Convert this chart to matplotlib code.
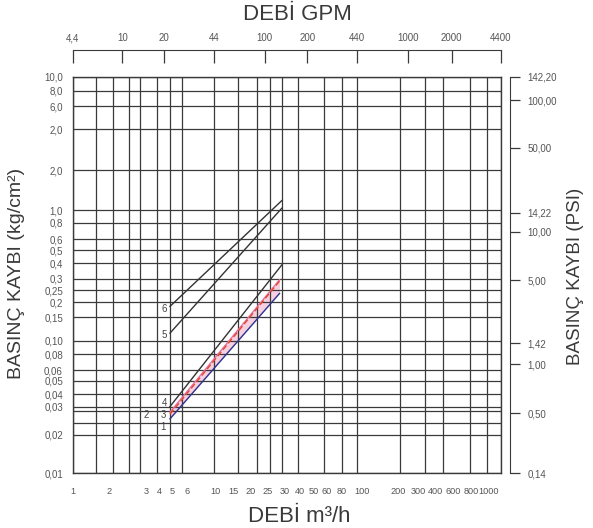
import numpy as np
import matplotlib.pyplot as plt

plt.rcParams['font.family'] = ['Liberation Sans', 'DejaVu Sans']

# flow axis (m3/h) - the printed grid is not a true log grid
x_grid = [1, 1.5, 2, 2.5, 3, 4, 5, 6, 10, 15, 20, 25, 30, 40, 50, 60, 80, 100,
          200, 300, 400, 600, 800, 1000]
x_grid_px = [72.7, 96, 113.3, 129, 140, 156.7, 170, 181.7, 214, 238.3, 257.3, 270,
             281.7, 298.3, 314, 324.3, 341.7, 356.7, 400, 425, 443.3, 470, 486.7, 500.7]
x_labels = ['1', '2', '3', '4', '5', '6', '10', '15', '20', '25', '30', '40', '50',
            '60', '80', '100', '200', '300', '400', '600', '800', '1000']
x_labels_px = [73.3, 109.3, 146, 159.3, 172.7, 186.7, 215, 233, 251, 268, 285, 300,
               314, 327, 342, 362, 398.3, 418.3, 435, 453.3, 471.7, 489]

# GPM axis on top
gpm_ticks = [4.4, 10, 20, 44, 100, 200, 440, 1000, 2000, 4400]
gpm_labels = ['4,4', '10', '20', '44', '100', '200', '440', '1000', '2000', '4400']
gpm_per_m3h = 4.4

# pressure loss (kg/cm2)
y_grid = [0.01, 0.02, 0.025, 0.028, 0.03, 0.04, 0.05, 0.06, 0.08, 0.1, 0.15, 0.2,
          0.25, 0.3, 0.4, 0.5, 0.6, 0.8, 1, 2, 4, 6, 8, 10]
y_grid_px = [473.3, 435, 423, 411, 406.5, 394, 380.7, 370, 354, 340.7, 317.3, 302.3,
             290, 278.5, 263.3, 250, 239.3, 222.7, 210.3, 170, 129.3, 106, 90.7, 76.7]
y_labels = ['0,01', '0,02', '', '', '0,03', '0,04', '0,05', '0,06', '0,08', '0,10',
            '0,15', '0,2', '0,25', '0,3', '0,4', '0,5', '0,6', '0,8', '1,0', '2,0',
            '2,0', '6,0', '8,0', '10,0']

# pressure loss (PSI) on right
psi_ticks = [0.14, 0.5, 1, 1.42, 5, 10, 14.22, 50, 100, 142.2]
psi_px = [473.3, 413.3, 364, 343.3, 280, 231.7, 212.7, 147.7, 100, 76.7]
psi_labels = ['0,14', '0,50', '1,00', '1,42', '5,00', '10,00', '14,22', '50,00',
              '100,00', '142,20']

# curves (m3/h -> kg/cm2)
curve_names = ['1', '2', '3', '4', '5', '6']
curve_x = [[5, 29], [5, 29], [5, 29], [5, 30], [5, 30], [5, 30]]
curve_y = [[0.026, 0.235], [0.0277, 0.294], [0.0272, 0.288],
           [0.03, 0.387], [0.114, 1.035], [0.185, 1.18]]
curve_color = ['#2a3590', '#e070a0', '#e8452c', '#333333', '#333333', '#333333']
curve_style = ['-', '-', (0, (4, 2)), '-', '-', '-']
label_off = [(-7, -8), (-24, -3), (-7, -1), (-5, 3), (-6, -2), (-6, -3)]

W, H = 593, 528
left, right, top, bottom = 72.7, 500.7, 76.7, 473.3


def make_scale(vals, px, p0, p1):
    lv = np.log10(np.asarray(vals, float))
    fr = (np.asarray(px, float) - p0) / (p1 - p0)

    def fwd(v):
        return np.interp(np.log10(np.clip(np.asarray(v, float), 1e-9, None)), lv, fr)

    def inv(f):
        return 10 ** np.interp(np.asarray(f, float), fr, lv)
    return fwd, inv


xf, xi = make_scale(x_grid, x_grid_px, left, right)
yf, yi = make_scale(y_grid, y_grid_px, bottom, top)
pf, pi = make_scale(psi_ticks, psi_px, bottom, top)

fig = plt.figure(figsize=(W / 100, H / 100), dpi=100)
ax = fig.add_axes([left / W, 1 - bottom / H, (right - left) / W, (bottom - top) / H])
ax.set_xscale('function', functions=(xf, xi))
ax.set_yscale('function', functions=(yf, yi))
ax.set_xlim(1, 1000)
ax.set_ylim(0.01, 10)

gc = '#3a3a3a'
lab_c = '#555555'
ax.set_xticks(x_grid, minor=True)
ax.set_xticks(xi((np.array(x_labels_px) - left) / (right - left)), x_labels)
ax.set_yticks(y_grid, y_labels)
ax.set_yticks([], minor=True)
ax.tick_params(which='both', length=0, labelsize=7, labelcolor=lab_c)
ax.tick_params(axis='x', pad=10, labelsize=6.6)
ax.tick_params(axis='y', pad=7)
ax.grid(True, which='minor', axis='x', color=gc, lw=0.9)
ax.grid(True, which='major', axis='y', color=gc, lw=0.9)
for s in ax.spines.values():
    s.set_color(gc)
    s.set_linewidth(1.0)

# shaded band between curves 1 and 2
ax.fill_between(curve_x[0], curve_y[0], curve_y[1], color='#f6cfe0', lw=0, zorder=1)

for i in range(len(curve_names)):
    ax.plot(curve_x[i], curve_y[i], color=curve_color[i], ls=curve_style[i], lw=1.0,
            zorder=3)
    ax.annotate(curve_names[i], (curve_x[i][0], curve_y[i][0]), xytext=label_off[i],
                textcoords='offset pixels', fontsize=7, color='#444444',
                ha='center', va='center')

# GPM axis
ax_top = ax.twiny()
ax_top.set_xscale('function', functions=(lambda g: xf(np.asarray(g, float) / gpm_per_m3h),
                                         lambda f: xi(f) * gpm_per_m3h))
ax_top.set_xlim(gpm_ticks[0], gpm_ticks[-1])
ax_top.set_xticks(gpm_ticks, gpm_labels)
ax_top.set_xticks([], minor=True)
ax_top.spines['top'].set_position(('outward', 19.2))
for k in ['left', 'right', 'bottom']:
    ax_top.spines[k].set_visible(False)
ax_top.spines['top'].set_color(gc)
ax_top.tick_params(axis='x', direction='in', length=9.4, width=0.9, color=gc,
                   labelsize=7, labelcolor=lab_c, pad=5)

# PSI axis
ax_r = ax.twinx()
ax_r.set_yscale('function', functions=(pf, pi))
ax_r.set_ylim(psi_ticks[0], psi_ticks[-1])
ax_r.set_yticks(psi_ticks, psi_labels)
ax_r.set_yticks([], minor=True)
ax_r.spines['right'].set_position(('outward', 6.8))
for k in ['left', 'top', 'bottom']:
    ax_r.spines[k].set_visible(False)
ax_r.spines['right'].set_color(gc)
ax_r.tick_params(axis='y', direction='out', length=7.2, width=0.9, color=gc,
                 labelsize=7, labelcolor=lab_c, pad=5.5)

tc = '#3a3a3a'
fig.text(297 / W, 1 - 14 / H, 'DEBİ GPM', ha='center', va='center', fontsize=16, color=tc)
fig.text(299 / W, 1 - 516 / H, 'DEBİ m³/h', ha='center', va='center', fontsize=16, color=tc)
fig.text(17 / W, 1 - 273.5 / H, 'BASINÇ KAYBI (kg/cm²)', rotation=90, ha='center',
         va='center', fontsize=14, color=tc)
fig.text(576 / W, 1 - 276.5 / H, 'BASINÇ KAYBI (PSI)', rotation=90, ha='center',
         va='center', fontsize=13.5, color=tc)

fig.savefig('out.png', dpi=100)
